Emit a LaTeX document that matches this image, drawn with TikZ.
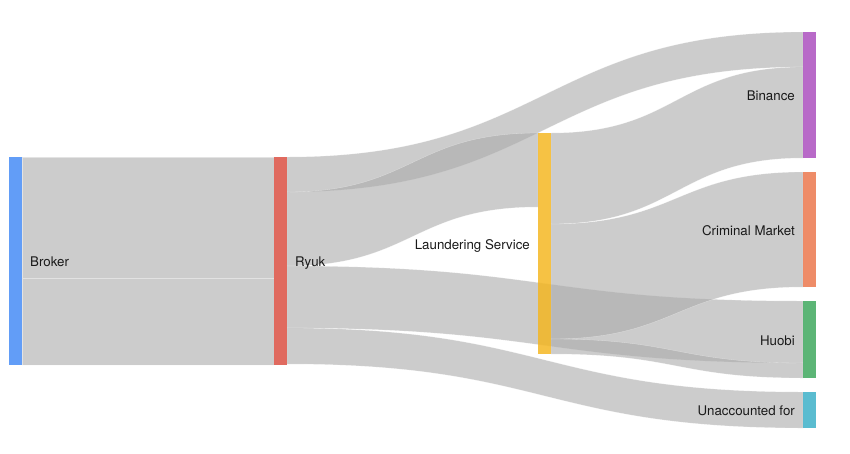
\documentclass[tikz,border=0pt]{standalone}
\usepackage{fontspec}
\setmainfont{TeX Gyre Heros}
\usetikzlibrary{calc}
\pgfdeclarelayer{bg}
\pgfsetlayers{bg,main}
\definecolor{linkc}{RGB}{170,170,170}
\definecolor{labelc}{RGB}{25,25,25}
\definecolor{cbroker}{RGB}{71,140,246}
\definecolor{cryuk}{RGB}{219,80,67}
\definecolor{claund}{RGB}{244,183,35}
\definecolor{cbinance}{RGB}{171,80,190}
\definecolor{ccriminal}{RGB}{235,120,78}
\definecolor{chuobi}{RGB}{63,168,94}
\definecolor{cunacc}{RGB}{61,176,200}
\tikzset{
  sknode/.style={rectangle, inner sep=0pt, outer sep=0pt, minimum width=13pt, draw=none, fill opacity=0.85, anchor=north west},
  linkfill/.style={fill=linkc, fill opacity=0.6, draw=white, draw opacity=0.45, line width=0.3pt},
  lbl/.style={inner sep=0pt, text=labelc, font=\fontsize{13.3}{15}\selectfont},
}
% source, source offset, target, target offset, width, half span
\newcommand\sklink[6]{%
  \path[linkfill] ([yshift=-#2pt]#1.north east) .. controls +(#6pt,0pt) and +(-#6pt,0pt) .. ([yshift=-#4pt]#3.north west)
    -- ([yshift=-#4pt-#5pt]#3.north west) .. controls +(-#6pt,0pt) and +(#6pt,0pt) .. ([yshift=-#2pt-#5pt]#1.north east) -- cycle;}
\begin{document}
\begin{tikzpicture}[x=1pt,y=-1pt]
\useasboundingbox (0,0) rectangle (850,453);
% nodes
\node[sknode, fill=cbroker,   minimum height=208pt] (broker)   at (9,157) {};
\node[sknode, fill=cryuk,     minimum height=208pt] (ryuk)     at (274,157) {};
\node[sknode, fill=claund,    minimum height=221pt] (laund)    at (538,133) {};
\node[sknode, fill=cbinance,  minimum height=126pt] (binance)  at (803,32) {};
\node[sknode, fill=ccriminal, minimum height=115pt] (criminal) at (803,172) {};
\node[sknode, fill=chuobi,    minimum height=77pt]  (huobi)    at (803,301) {};
\node[sknode, fill=cunacc,    minimum height=36pt]  (unacc)    at (803,392) {};
% links
\begin{pgfonlayer}{bg}
\sklink{broker}{0}{ryuk}{0}{121}{126}
\sklink{broker}{121}{ryuk}{121}{87}{126}
\sklink{ryuk}{0}{binance}{0}{35}{258}
\sklink{ryuk}{35}{laund}{0}{74}{125.5}
\sklink{ryuk}{109}{huobi}{0}{62}{258}
\sklink{ryuk}{171}{unacc}{0}{36}{258}
\sklink{laund}{0}{binance}{35}{91}{126}
\sklink{laund}{91}{criminal}{0}{115}{126}
\sklink{laund}{206}{huobi}{62}{15}{126}
\end{pgfonlayer}
% labels
\node[lbl, anchor=base west] (lbroker) at ([xshift=8pt,yshift=-5.5pt]broker.east) {Broker};
\node[lbl, anchor=base west] (lryuk) at ([xshift=8pt,yshift=-5.5pt]ryuk.east) {Ryuk};
\node[lbl, anchor=base east] (llaund) at ([xshift=-8pt,yshift=-5.5pt]laund.west) {Laundering Service};
\node[lbl, anchor=base east] (lbinance) at ([xshift=-8pt,yshift=-5.5pt]binance.west) {Binance};
\node[lbl, anchor=base east] (lcriminal) at ([xshift=-8pt,yshift=-5.5pt]criminal.west) {Criminal Market};
\node[lbl, anchor=base east] (lhuobi) at ([xshift=-8pt,yshift=-5.5pt]huobi.west) {Huobi};
\node[lbl, anchor=base east] (lunacc) at ([xshift=-8pt,yshift=-5.5pt]unacc.west) {Unaccounted for};
\end{tikzpicture}
\end{document}
